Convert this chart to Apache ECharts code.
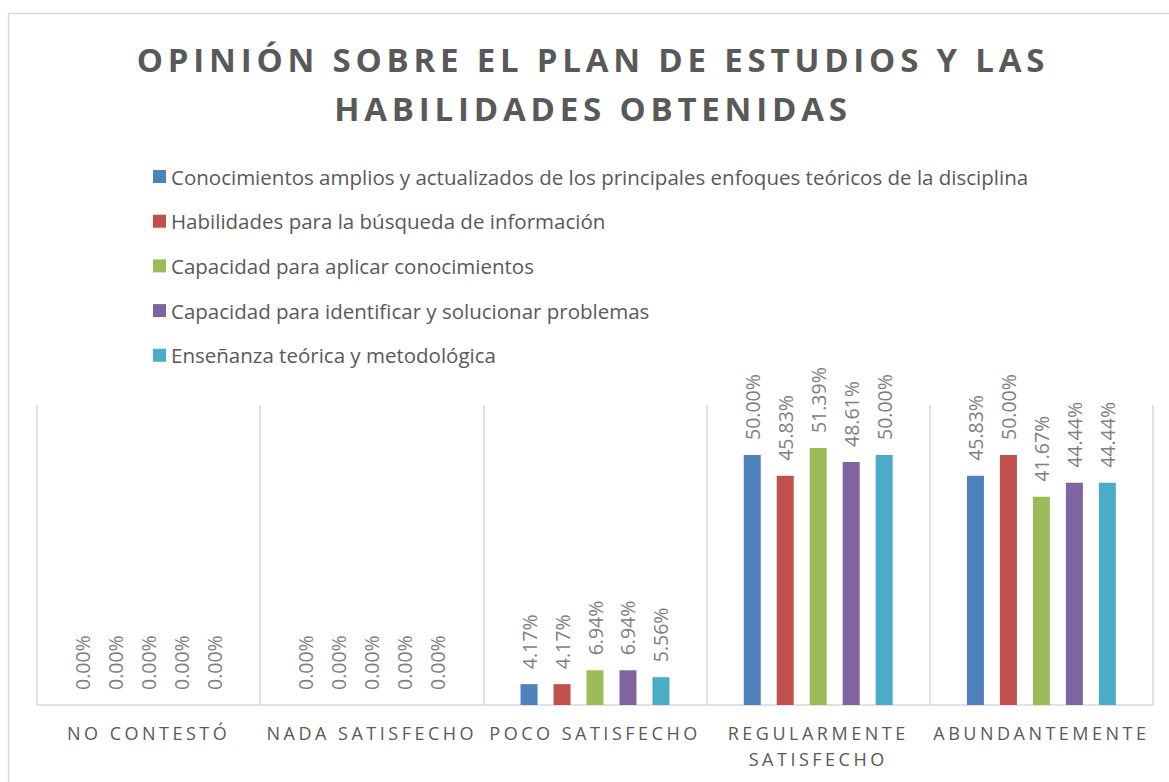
<!DOCTYPE html>
<html>
<head>
<meta charset="utf-8">
<script src="https://cdn.jsdelivr.net/npm/echarts@6/dist/echarts.min.js"></script>
<style>
html,body{margin:0;padding:0;background:#fff;}
#chart{width:1169px;height:782px;}
</style>
</head>
<body>
<div id="chart"></div>
<script>
const titleText = 'OPINIÓN SOBRE EL PLAN DE ESTUDIOS Y LAS\nHABILIDADES OBTENIDAS';
const categories = ['NO CONTESTÓ', 'NADA SATISFECHO', 'POCO SATISFECHO', 'REGULARMENTE SATISFECHO', 'ABUNDANTEMENTE'];
const seriesNames = [
  'Conocimientos amplios y actualizados de los principales enfoques teóricos de la disciplina',
  'Habilidades para la búsqueda de información',
  'Capacidad para aplicar conocimientos',
  'Capacidad para identificar y solucionar problemas',
  'Enseñanza teórica y metodológica'
];
const conocimientosAmplios = [0, 0, 4.17, 50.00, 45.83];
const habilidadesBusqueda = [0, 0, 4.17, 45.83, 50.00];
const capacidadAplicar = [0, 0, 6.94, 51.39, 41.67];
const capacidadIdentificar = [0, 0, 6.94, 48.61, 44.44];
const ensenanzaTeorica = [0, 0, 5.56, 50.00, 44.44];
const seriesValues = [conocimientosAmplios, habilidadesBusqueda, capacidadAplicar, capacidadIdentificar, ensenanzaTeorica];
const colors = ['#4f81bd', '#c0504d', '#9bbb59', '#8064a2', '#4bacc6'];

const FONT = '"Open Sans", "Noto Sans", sans-serif';
const chart = echarts.init(document.getElementById('chart'), null, {renderer: 'svg'});

const series = seriesNames.map((name, i) => ({
  name: name,
  type: 'bar',
  data: seriesValues[i],
  barWidth: 17,
  barGap: '94%',
  itemStyle: {color: colors[i]},
  label: {
    show: true,
    position: 'top',
    rotate: 90,
    align: 'left',
    verticalAlign: 'middle',
    distance: 15,
    fontSize: 19.5,
    fontFamily: FONT,
    color: '#7f7f7f',
    formatter: p => p.value.toFixed(2) + '%'
  }
}));

chart.setOption({
  animation: false,
  color: colors,
  title: {
    text: titleText,
    left: 588,
    textAlign: 'center',
    top: 30,
    textStyle: {
      fontFamily: FONT,
      fontWeight: 'bold',
      fontSize: 33,
      lineHeight: 49,
      color: '#595959'
    }
  },
  legend: {
    orient: 'vertical',
    left: 153,
    top: 166,
    padding: 0,
    itemWidth: 13,
    itemHeight: 13,
    itemGap: 23.7,
    icon: 'rect',
    textStyle: {
      fontFamily: FONT,
      fontSize: 20.5,
      lineHeight: 20,
      color: '#595959'
    },
    data: seriesNames
  },
  grid: {left: 37, right: 16, top: 405, bottom: 77, containLabel: false},
  xAxis: {
    type: 'category',
    data: categories,
    axisLine: {lineStyle: {color: '#d9d9d9', width: 1.5}},
    axisTick: {show: false},
    splitLine: {show: true, interval: 0, lineStyle: {color: '#d9d9d9', width: 1.5}},
    axisLabel: {
      interval: 0,
      margin: 15,
      fontFamily: FONT,
      fontSize: 18,
      lineHeight: 26,
      color: '#595959',
      formatter: v => v.length > 16 ? v.replace(' ', '\n') : v
    }
  },
  yAxis: {
    type: 'value',
    min: 0,
    max: 60,
    show: false,
    splitLine: {show: false}
  },
  graphic: [{
    type: 'rect',
    left: 6,
    top: 11,
    silent: true,
    z: -10,
    shape: {width: 1200, height: 800},
    style: {fill: 'none', stroke: '#d9d9d9', lineWidth: 1.5}
  }],
  series: series
});

// letter spacing for title and category labels (Excel style)
const titleLines = titleText.split('\n');
const catLines = [];
categories.forEach(c => (c.length > 16 ? c.replace(' ', '\n') : c).split('\n').forEach(l => catLines.push(l)));
document.querySelectorAll('#chart svg text').forEach(t => {
  const s = t.textContent;
  if (titleLines.includes(s)) t.setAttribute('letter-spacing', '4.8');
  else if (catLines.includes(s)) t.setAttribute('letter-spacing', '3.5');
});
</script>
</body>
</html>
